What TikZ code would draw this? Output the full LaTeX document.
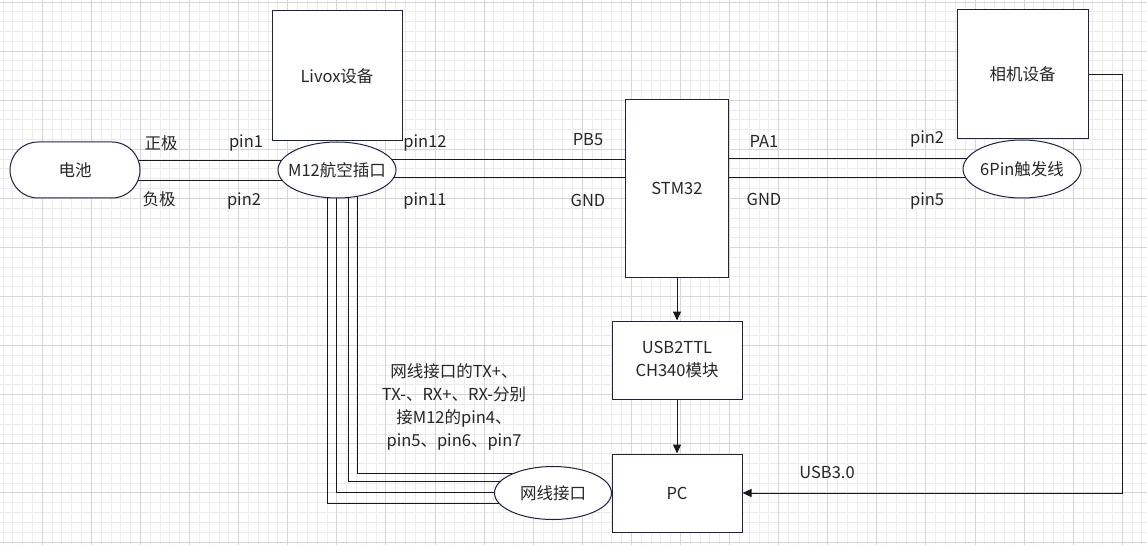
\documentclass[tikz,border=0pt]{standalone}
\usepackage{fontspec}
\setmainfont{Noto Sans CJK SC}
\usetikzlibrary{shapes}
\usetikzlibrary{arrows.meta}
\definecolor{gridminor}{RGB}{236,236,236}
\definecolor{gridmajor}{RGB}{214,214,214}
\definecolor{edge}{RGB}{28,34,72}
\definecolor{ink}{RGB}{38,38,38}
\pgfdeclarelayer{grid}
\pgfdeclarelayer{wires}
\pgfsetlayers{grid,wires,main}

\begin{document}
\begin{tikzpicture}[x=1pt,y=-1pt,font=\fontsize{16.5}{23}\selectfont,text=ink,
  box/.style={draw=edge,fill=white,line width=1pt,inner sep=0pt},
  oval/.style={ellipse,draw=edge,fill=white,line width=1pt,inner sep=0pt},
  wire/.style={line width=1pt,draw=black!90},
  arr/.style={wire,-{Triangle[length=9pt,width=8pt]}},
  lbl/.style={anchor=base,inner sep=0pt}]
\useasboundingbox (0,0) rectangle (1147,545);
% background grid
\begin{pgfonlayer}{grid}
\fill [white] (0,0) rectangle (1147,545);
\foreach \i in {0,...,116} \draw [gridminor,line width=0.9pt] ({3.03+\i*9.818},0) -- ++(0,545);
\foreach \j in {0,...,55} \draw [gridminor,line width=0.9pt] (0,{2+\j*9.818}) -- ++(1147,0);
\foreach \i in {0,...,22} \draw [gridmajor,line width=0.9pt] ({42.3+\i*49.09},0) -- ++(0,545);
\foreach \j in {0,...,11} \draw [gridmajor,line width=0.9pt] (0,{2+\j*49.09}) -- ++(1147,0);
\end{pgfonlayer}

\node [box,rounded corners=28pt,minimum width=130pt,minimum height=56pt] (bat) at (75,170) {电池};
\node [box,minimum width=130pt,minimum height=130pt] (livox) at (337,76) {Livox设备};
\node [oval,minimum width=118pt,minimum height=56pt,label=center:M12航空插口] (m12) at (337,170) {};
\node [box,minimum width=103pt,minimum height=177pt] (stm) at (677,188.5) {STM32};
\node [box,minimum width=131pt,minimum height=129pt] (cam) at (1022.5,74.5) {相机设备};
\node [oval,minimum width=118pt,minimum height=58pt,label=center:6Pin触发线] (trig) at (1022,169) {};
\node [box,minimum width=130pt,minimum height=78pt,align=center] (ttl) at (677,360) {USB2TTL\\CH340模块};
\node [box,minimum width=130pt,minimum height=78pt] (pc) at (677,493) {PC};
\node [oval,minimum width=117pt,minimum height=53pt,label=center:网线接口] (net) at (553,493) {};

\begin{pgfonlayer}{wires}
\draw [wire] (bat.center) ++(0,-9) coordinate (b1) -- (b1 -| m12.center);
\draw [wire] (bat.center) ++(0,11) coordinate (b2) -- (b2 -| m12.center);
\draw [wire] (m12.center) ++(0,-10) coordinate (m1) -- (m1 -| stm.center);
\draw [wire] (m12.center) ++(0,8) coordinate (m2) -- (m2 -| stm.center);
\draw [wire] (stm.center) ++(0,-29.5) coordinate (s1) -- (s1 -| trig.center);
\draw [wire] (stm.center) ++(0,-10.5) coordinate (s2) -- (s2 -| trig.center);
\foreach \dx/\up in {-10/-10,-1/1,11/12,20/20}
  \draw [wire] (m12.center) ++(\dx,0) |- ([yshift=\up pt]net.center);
\end{pgfonlayer}

\draw [arr] (stm) -- (ttl);
\draw [arr] (ttl) -- (pc);
\draw [arr] (cam.east) -- ++(34,0) |- (pc.east);

\node [lbl] (plus) at (161,150) {正极};
\node [lbl] (minus) at (159,206) {负极};
\node [lbl] (p1) at (246,148) {pin1};
\node [lbl] (p2) at (244,206) {pin2};
\node [lbl] (p12) at (425,148) {pin12};
\node [lbl] (p11) at (425,206) {pin11};
\node [lbl] (pb5) at (588,146) {PB5};
\node [lbl] (gndl) at (588,207) {GND};
\node [lbl] (pa1) at (764,148) {PA1};
\node [lbl] (gndr) at (764,206) {GND};
\node [lbl] (tp2) at (927,144) {pin2};
\node [lbl] (tp5) at (927,206) {pin5};
\node [lbl] (usb) at (827,478) {USB3.0};
\node [align=center] (note) at (454,407) {网线接口的TX+、\\TX-、RX+、RX-分别\\接M12的pin4、\\pin5、pin6、pin7};
\end{tikzpicture}
\end{document}
